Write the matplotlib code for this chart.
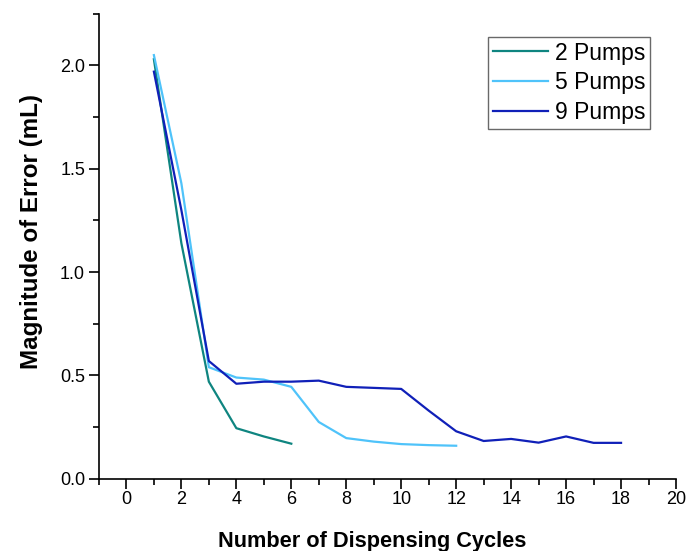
import matplotlib.pyplot as plt
import numpy as np

plt.rcParams['font.family'] = ['Liberation Sans', 'DejaVu Sans']

# data
x2 = np.arange(1, 7)
y2 = [2.03, 1.14, 0.47, 0.245, 0.205, 0.17]

x5 = np.arange(1, 13)
y5 = [2.05, 1.43, 0.54, 0.49, 0.48, 0.445, 0.275, 0.197, 0.18, 0.168, 0.163, 0.16]

x9 = np.arange(1, 19)
y9 = [1.97, 1.30, 0.57, 0.46, 0.47, 0.47, 0.475, 0.445, 0.44, 0.435, 0.33, 0.23,
      0.183, 0.193, 0.175, 0.205, 0.174, 0.174]

fig = plt.figure(figsize=(6.87, 5.51), dpi=100)
ax = fig.add_axes([0.144, 0.131, 0.84, 0.844])

ax.plot(x2, y2, color='#0f8580', lw=1.6, label='2 Pumps')
ax.plot(x5, y5, color='#4fc3fa', lw=1.6, label='5 Pumps')
ax.plot(x9, y9, color='#1020b8', lw=1.6, label='9 Pumps')

ax.set_xlim(-1, 20)
ax.set_ylim(0, 2.25)
ax.set_xticks(np.arange(0, 21, 2))
ax.set_xticks(np.arange(-1, 21, 1), minor=True)
ax.set_yticks([0.0, 0.5, 1.0, 1.5, 2.0])
ax.set_yticks(np.arange(0, 2.26, 0.25), minor=True)
ax.set_yticklabels(['0.0', '0.5', '1.0', '1.5', '2.0'])

ax.tick_params(which='major', direction='out', length=7, width=1.2, labelsize=13)
ax.tick_params(which='minor', direction='out', length=4, width=1.2)
ax.tick_params(axis='x', pad=2)
ax.tick_params(axis='y', pad=3)

ax.spines['top'].set_visible(False)
ax.spines['right'].set_visible(False)
ax.spines['left'].set_linewidth(1.2)
ax.spines['bottom'].set_linewidth(1.2)

ax.set_xlabel('Number of Dispensing Cycles', fontsize=15.7, fontweight='bold', labelpad=16)
ax.set_ylabel('Magnitude of Error (mL)', fontsize=17.4, fontweight='bold', labelpad=12)
ax.xaxis.label.set_x(0.473)
ax.yaxis.label.set_y(0.531)

leg = ax.legend(loc='upper right', bbox_to_anchor=(0.946, 0.933),
                bbox_transform=fig.transFigure, fontsize=16.5, fancybox=False,
                edgecolor='#444444', handlelength=2.4, borderpad=0.2,
                labelspacing=0.3, handletextpad=0.3, borderaxespad=0)
leg.get_frame().set_linewidth(1.0)

plt.savefig('out.png', dpi=100)
